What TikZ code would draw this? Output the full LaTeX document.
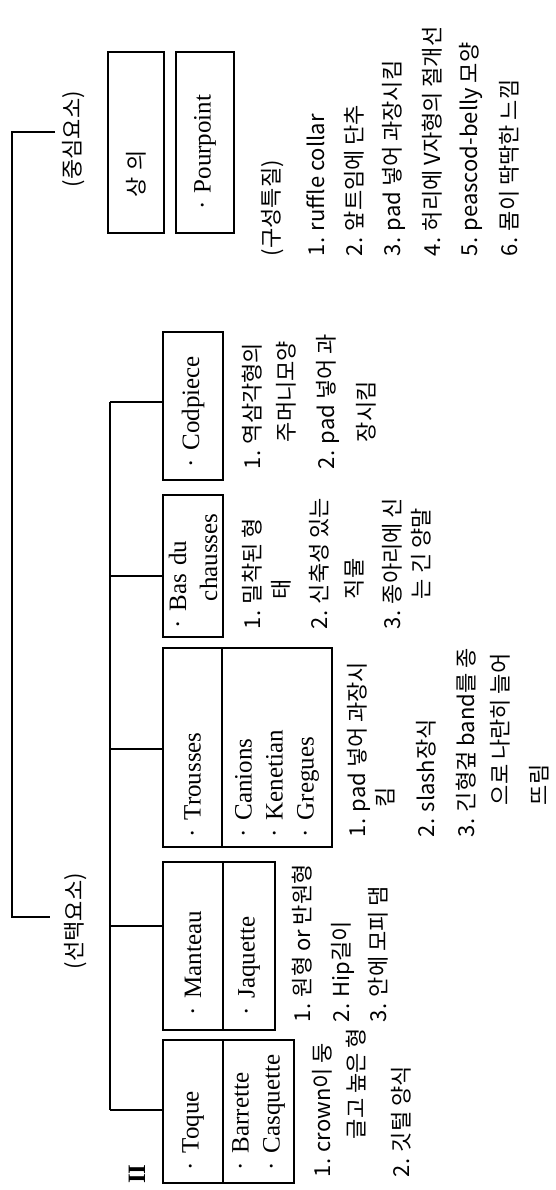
\documentclass[tikz,border=0pt]{standalone}
\usepackage{fontspec}
\setmainfont{Liberation Serif}
\newfontfamily\kr{Noto Sans CJK KR}
\newcommand\partfont{\fontsize{25}{31}\selectfont}
\newcommand\notefont{\kr\fontsize{22}{26}\selectfont}

\tikzset{
	part/.style={draw, rotate=90, align=left, font=\partfont, inner ysep=0pt},
	note/.style={rotate=90, anchor=west, inner sep=0pt, font=\notefont, text height=19pt, text depth=4pt},
}

\begin{document}
\begin{tikzpicture}[x=1pt,y=-1pt,line width=1.8pt]
	\useasboundingbox (0,0) rectangle (556,1190);

	\path
		(136,142.5) node[part,font=\notefont,inner xsep=35pt,text width=111pt,minimum height=56pt] (Sang) {상 의}
		(205,142.5) node[part,inner xsep=23pt,text width=135pt,minimum height=58pt] (Pour) {· Pourpoint}
		(193,406) node[part,inner xsep=13pt,text width=122pt,minimum height=60pt] (Cod) {· Codpiece}
		(193,566) node[part,inner xsep=9pt,text width=124pt,minimum height=60pt] (Bas) {· Bas du\\\hspace*{27pt}chausses}
		(192.5,747.5) node[part,inner xsep=10pt,text width=179pt,minimum height=59pt] (Tro) {· Trousses}
		(277,747.5) node[part,inner xsep=10pt,text width=179pt,minimum height=110pt] (TroB) {· Canions\\· Kenetian\\· Gregues}
		(193,946) node[part,inner xsep=15pt,text width=138pt,minimum height=60pt] (Man) {· Manteau}
		(249,946) node[part,inner xsep=15pt,text width=138pt,minimum height=52pt] (ManB) {· Jaquette}
		(193,1111.5) node[part,inner xsep=13pt,text width=117pt,minimum height=60pt] (Toq) {· Toque}
		(258.5,1111.5) node[part,inner xsep=13pt,text width=117pt,minimum height=71pt] (ToqB) {· Barrette\\· Casquette}
		(137,1174) node[rotate=90,font=\bfseries\fontsize{25}{25}\selectfont] (Num) {II}
	;

	\path
		(73,188) node[note] (Lc) {(중심요소)}
		(75,970) node[note] (Ls) {(선택요소)}
		(272,257) node[note] (Pp0) {(구성특질)}
		(317,257) node[note] (Pp1) {1. ruffle collar}
		(355,257) node[note] (Pp2) {2. 앞트임에 단추}
		(393,257) node[note] (Pp3) {3. pad 넣어 과장시킴}
		(433,257) node[note] (Pp4) {4. 허리에 V자형의 절개선}
		(470,257) node[note] (Pp5) {5. peascod-belly 모양}
		(510,257) node[note] (Pp6) {6. 몸이 딱딱한 느낌}
		(253,470) node[note] (Cp1) {1. 역삼각형의}
		(287,443) node[note] (Cp1b) {주머니모양}
		(327,470) node[note] (Cp2) {2. pad 넣어 과}
		(367,443) node[note] (Cp2b) {장시킴}
		(253,630) node[note] (Bd1) {1. 밀착된 형}
		(282,600) node[note] (Bd1b) {태}
		(320,630) node[note] (Bd2) {2. 신축성 있는}
		(355,600) node[note] (Bd2b) {직물}
		(393,630) node[note] (Bd3) {3. 종아리에 신}
		(422,600) node[note] (Bd3b) {는 긴 양말}
		(358,838) node[note] (Tr1) {1. pad 넣어 과장시}
		(386,808) node[note] (Tr1b) {킴}
		(427,838) node[note] (Tr2) {2. slash장식}
		(467,838) node[note] (Tr3) {3. 긴형겊 band를 종}
		(501,806) node[note] (Tr3b) {으로 나란히 늘어}
		(540,806) node[note] (Tr3c) {뜨림}
		(303,1023) node[note] (Mt1) {1. 원형 or 반원형}
		(342,1023) node[note] (Mt2) {2. Hip길이}
		(379,1023) node[note] (Mt3) {3. 안에 모피 댐}
		(323,1178) node[note] (To1) {1. crown이 둥}
		(357,1140) node[note] (To1b) {글고 높은 형}
		(402,1178) node[note] (To2) {2. 깃털 양식}
	;

	\path
		(110,402) coordinate (jC)
		(110,576) coordinate (jB)
		(110,749) coordinate (jT)
		(110,926) coordinate (jM)
		(110,1110) coordinate (jQ)
		(12,132) coordinate (kT)
		(55,132) coordinate (kTe)
		(12,917) coordinate (kB)
		(50,917) coordinate (kBe)
	;

	\draw (jC) -- (jQ);
	\foreach \j/\n in {jC/Cod,jB/Bas,jT/Tro,jM/Man,jQ/Toq}
		\draw (\j) -- (\n.north |- \j);
	\draw (kTe) -- (kT) -- (kB) -- (kBe);
\end{tikzpicture}
\end{document}
